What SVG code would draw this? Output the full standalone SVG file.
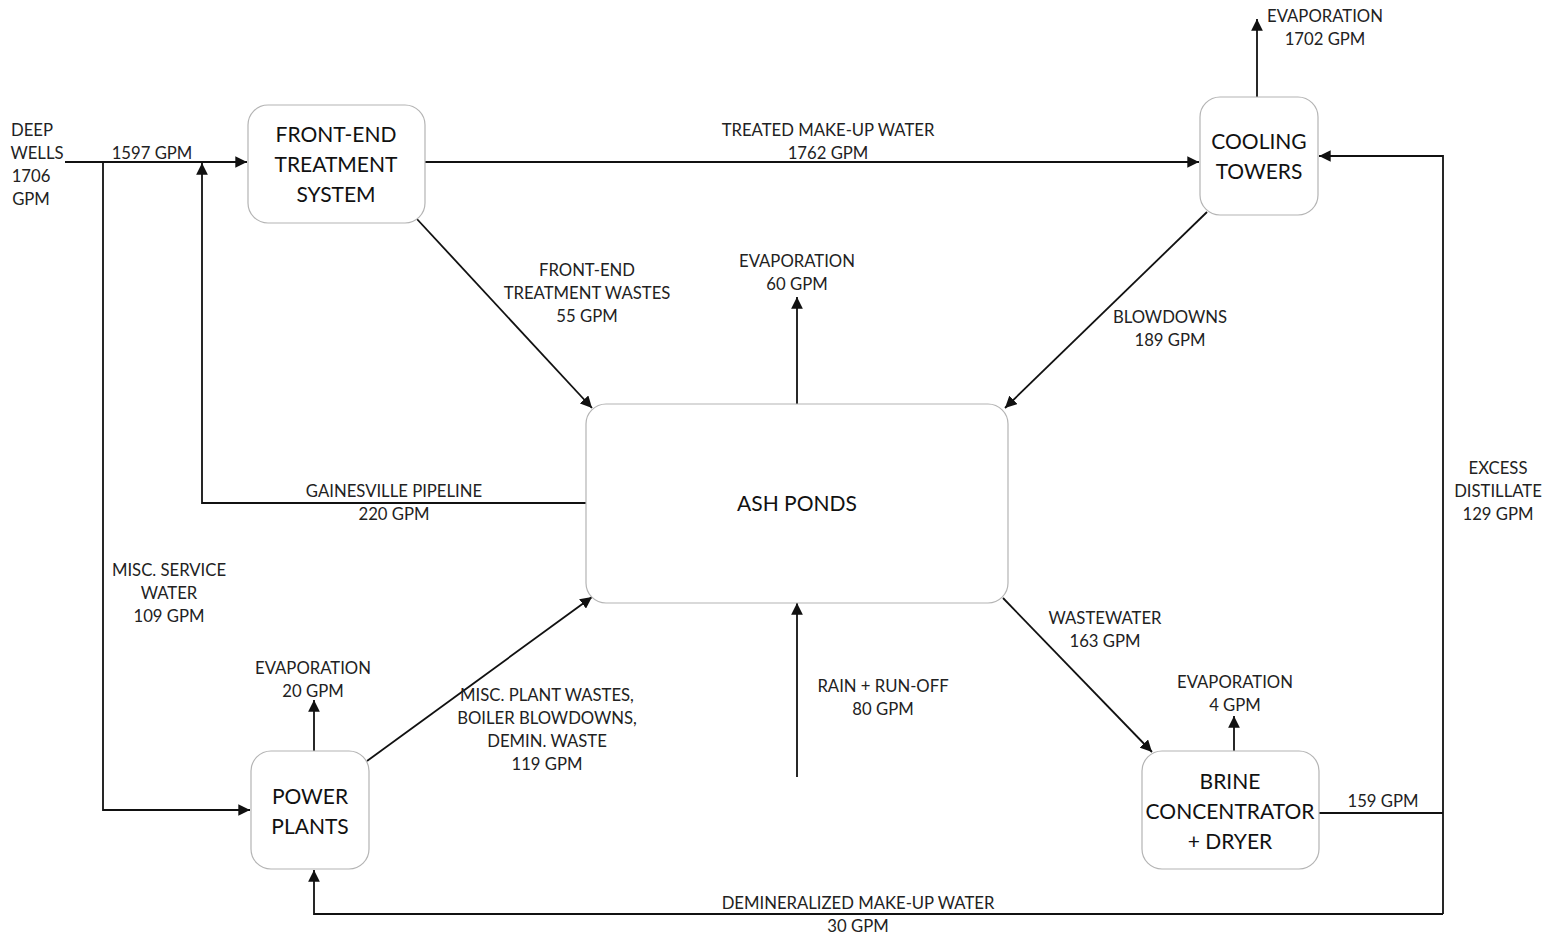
<svg xmlns="http://www.w3.org/2000/svg" width="1545" height="937" viewBox="0 0 1545 937">
<style>
.node rect{fill:#fff;stroke:#b4b4b4;stroke-width:1.2}
.node text{font-family:Lato,"Open Sans",sans-serif;font-size:21px;fill:#111;text-anchor:middle}
.lbl{font-family:Lato,"Open Sans",sans-serif;font-size:16.7px;fill:#222;text-anchor:middle}
#connectors path{fill:none;stroke:#111;stroke-width:1.8}
</style>
<defs>
<marker id="ah" viewBox="0 0 10 10" refX="10" refY="5" markerWidth="6.5" markerHeight="6.5" markerUnits="strokeWidth" orient="auto">
<path d="M0,0 L10,5 L0,10 z" fill="#111"/>
</marker>
</defs>
<rect width="1545" height="937" fill="#fff"/>
<g id="connectors">
<path d="M65,162 H247" marker-end="url(#ah)"/>
<path d="M103,162 V810 H250" marker-end="url(#ah)"/>
<path d="M586,503 H202 V163" marker-end="url(#ah)"/>
<path d="M425,162 H1199" marker-end="url(#ah)"/>
<path d="M1257,97 V19" marker-end="url(#ah)"/>
<path d="M416,218 L592,408" marker-end="url(#ah)"/>
<path d="M797,404 V297" marker-end="url(#ah)"/>
<path d="M1207,212 L1005,408" marker-end="url(#ah)"/>
<path d="M1003,598 L1152,752" marker-end="url(#ah)"/>
<path d="M1234,751 V716" marker-end="url(#ah)"/>
<path d="M1319,813 H1443"/>
<path d="M1443,914 V156 H1319" marker-end="url(#ah)"/>
<path d="M1443,914 H314 V870" marker-end="url(#ah)"/>
<path d="M314,751 V700" marker-end="url(#ah)"/>
<path d="M367,761 L592,597" marker-end="url(#ah)"/>
<path d="M797,777 V603" marker-end="url(#ah)"/>
</g>
<g id="front-end" class="node"><rect x="248" y="105" width="177" height="118" rx="20"/><text x="336" y="142">FRONT-END</text><text x="336" y="172">TREATMENT</text><text x="336" y="202">SYSTEM</text></g>
<g id="cooling" class="node"><rect x="1200" y="97" width="118" height="118" rx="20"/><text x="1259" y="149">COOLING</text><text x="1259" y="179">TOWERS</text></g>
<g id="ash" class="node"><rect x="586" y="404" width="422" height="199" rx="20"/><text x="797" y="511">ASH PONDS</text></g>
<g id="power" class="node"><rect x="251" y="751" width="118" height="118" rx="20"/><text x="310" y="804">POWER</text><text x="310" y="834">PLANTS</text></g>
<g id="brine" class="node"><rect x="1142" y="751" width="177" height="118" rx="20"/><text x="1230" y="789">BRINE</text><text x="1230" y="819">CONCENTRATOR</text><text x="1230" y="849">+ DRYER</text></g>
<g id="labels" class="lbl">
<text x="32" y="136">DEEP</text><text x="37" y="159">WELLS</text><text x="31" y="182">1706</text><text x="31" y="205">GPM</text>
<text x="152" y="159">1597 GPM</text>
<text x="828" y="136">TREATED MAKE-UP WATER</text><text x="828" y="159">1762 GPM</text>
<text x="1325" y="22">EVAPORATION</text><text x="1325" y="45">1702 GPM</text>
<text x="587" y="276">FRONT-END</text><text x="587" y="299">TREATMENT WASTES</text><text x="587" y="322">55 GPM</text>
<text x="797" y="267">EVAPORATION</text><text x="797" y="290">60 GPM</text>
<text x="1170" y="323">BLOWDOWNS</text><text x="1170" y="346">189 GPM</text>
<text x="394" y="497">GAINESVILLE PIPELINE</text><text x="394" y="520">220 GPM</text>
<text x="169" y="576">MISC. SERVICE</text><text x="169" y="599">WATER</text><text x="169" y="622">109 GPM</text>
<text x="1498" y="474">EXCESS</text><text x="1498" y="497">DISTILLATE</text><text x="1498" y="520">129 GPM</text>
<text x="1105" y="624">WASTEWATER</text><text x="1105" y="647">163 GPM</text>
<text x="313" y="674">EVAPORATION</text><text x="313" y="697">20 GPM</text>
<text x="547" y="701">MISC. PLANT WASTES,</text><text x="547" y="724">BOILER BLOWDOWNS,</text><text x="547" y="747">DEMIN. WASTE</text><text x="547" y="770">119 GPM</text>
<text x="883" y="692">RAIN + RUN-OFF</text><text x="883" y="715">80 GPM</text>
<text x="1235" y="688">EVAPORATION</text><text x="1235" y="711">4 GPM</text>
<text x="1383" y="807">159 GPM</text>
<text x="858" y="909">DEMINERALIZED MAKE-UP WATER</text><text x="858" y="932">30 GPM</text>
</g>
</svg>
